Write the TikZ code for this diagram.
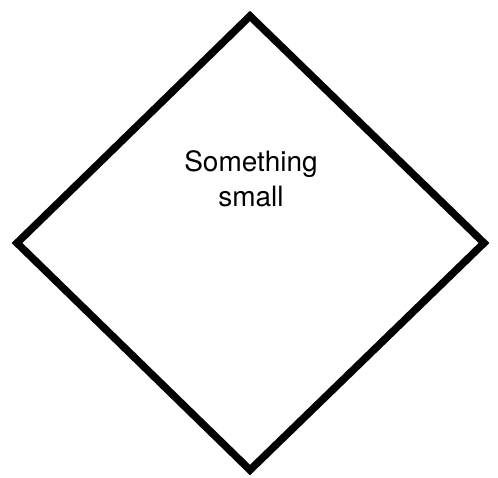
\documentclass[tikz,border=0pt]{standalone}
\usepackage{fontspec}
\setmainfont{TeX Gyre Heros}
\begin{document}
\begin{tikzpicture}[x=1pt,y=-1pt,every node/.style={font=\fontsize{28}{35}\selectfont}]
\useasboundingbox (0,0) rectangle (498,477);
% diamond outline
\draw[line width=7.5pt,line join=miter] (250,16) -- (484,243) -- (250,470) -- (17,243) -- cycle;
\node[align=center] (label) at (251,179) {Something\\small};
\end{tikzpicture}
\end{document}
